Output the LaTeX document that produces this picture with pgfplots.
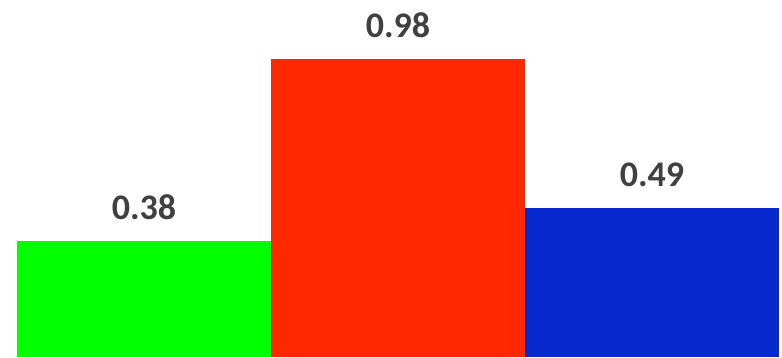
\documentclass[border=0pt]{standalone}
\usepackage{pgfplots}
\pgfplotsset{compat=1.18}
\usepackage{fontspec}
\setmainfont{Carlito}
\definecolor{cgreen}{HTML}{00FF00}
\definecolor{cred}{HTML}{FF2800}
\definecolor{cblue}{HTML}{0829D0}
\definecolor{ctext}{HTML}{404040}
\begin{document}
\begin{tikzpicture}
\begin{axis}[
  scale only axis,
  width=782pt, height=357pt,
  axis lines=none,
  xmin=-0.567, xmax=2.512,
  ymin=0, ymax=1.1743,
  ybar, bar width=1, bar shift=0pt,
  nodes near coords,
  nodes near coords style={font=\fontsize{36}{36}\selectfont\bfseries, text=ctext, /pgf/number format/fixed, /pgf/number format/precision=2, /pgf/number format/fixed zerofill, /pgf/number format/assume math mode=true},
  every node near coord/.append style={anchor=base, yshift=22pt},
  clip=false,
]
\path (rel axis cs:0,0) rectangle (rel axis cs:1,1);
\addplot[fill=cgreen, draw=none] coordinates {(0,0.38)};
\addplot[fill=cred, draw=none] coordinates {(1,0.98)};
\addplot[fill=cblue, draw=none] coordinates {(2,0.49)};
\end{axis}
\end{tikzpicture}
\end{document}
